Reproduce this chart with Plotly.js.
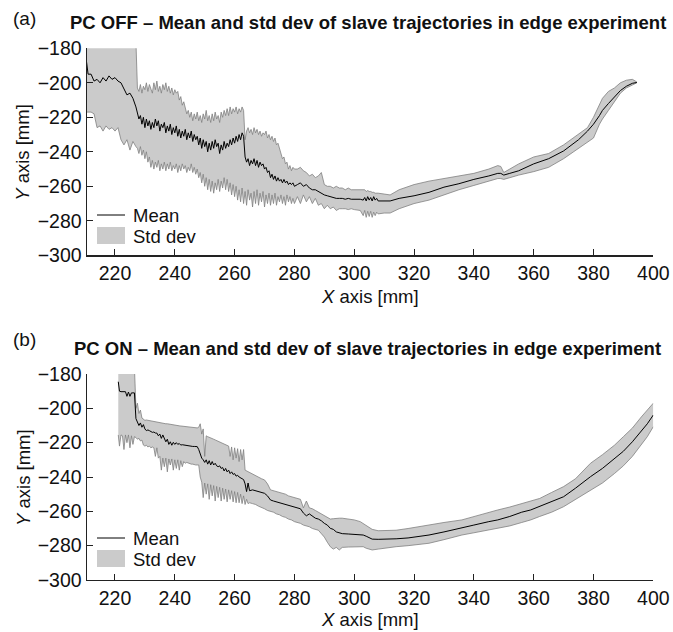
<!DOCTYPE html>
<html>
<head>
<meta charset="utf-8">
<script src="https://cdn.plot.ly/plotly-3.0.1.min.js"></script>
<style>html,body{margin:0;padding:0;background:#fff;}#chart{width:673px;height:632px;}</style>
</head>
<body>
<div id="chart"></div>
<script>
// ---------- Panel (a): PC OFF ----------
const xA = [210.5,211,212,213,214,215,216,217,218,219,220,221,222,223,224,225,226,227,
227.5,228,228.5,229,229.5,230,230.5,231,231.5,232,
232.5,233,233.5,234,234.5,235,235.5,236,236.5,237,
237.5,238,238.5,239,239.5,240,240.5,241,241.5,242,
242.5,243,243.5,244,244.5,245,245.5,246,246.5,247,
247.5,248,248.5,249,249.5,250,250.5,251,251.5,252,
252.5,253,253.5,254,254.5,255,255.5,256,256.5,257,
257.5,258,258.5,259,259.5,260,260.5,261,261.5,262,
262.5,263,263.5,264,264.5,265,265.5,266,266.5,267,
267.5,268,268.5,269,269.5,270,270.5,271,271.5,272,
272.5,273,273.5,274,274.5,275,275.5,276,276.5,277,
277.5,278,278.5,279,279.5,280,
281,282,283,284,285,286,287,288,289,290,291,292,293,294,295,296,297,298,299,300,
302,303,303.5,304,304.5,305,305.5,306,306.5,307,307.5,308,310,312,315,320,325,330,335,340,
345,348,349,350,352,355,360,365,370,375,378,380,382,383,385,387,389,391,393,394.5];

const meanA = [-188,-195,-195,-199,-198,-200,-197,-199,-196,-198,-197,-199,-200,-204,-207,-206,-209,-214,
-218,-221,-219,-224,-220,-226,-221,-225,-222,-227,
-223,-226,-221,-225,-222,-228,-224,-226,-223,-229,
-225,-228,-224,-230,-226,-229,-225,-231,-227,-232,
-228,-231,-227,-233,-229,-232,-228,-234,-230,-233,
-231,-236,-232,-238,-233,-237,-234,-240,-235,-239,
-234,-238,-233,-237,-235,-241,-236,-239,-234,-238,
-235,-237,-233,-236,-232,-235,-231,-234,-230,-233,
-229,-231,-243,-246,-244,-248,-245,-247,-244,-248,
-245,-249,-246,-248,-247,-250,-249,-252,-251,-255,
-253,-256,-254,-257,-255,-257,-256,-258,-256,-258,
-257,-259,-258,-259,-258,-260,
-259,-258,-260,-259,-261,-262,-262,-263,-264,-265,-265.5,-266,-266.5,-267,-267,-267,-267.5,-267,-267.5,-267.5,
-267.5,-268,-266.5,-268.5,-266,-268,-266.5,-268.5,-266,-268,-267,-268.5,-268.5,-268.5,-267,-265.5,-263.5,-260.5,-258.5,-256,
-254,-252.5,-252.5,-253.5,-252.5,-251,-247,-244,-239.5,-233,-228,-224,-219,-216,-212,-208,-204.5,-202,-200.3,-199.8];

const upperA = [-176,-176,-176,-176,-176,-176,-176,-176,-176,-176,-176,-176,-176,-176,-176,-176,-176,-176,
-203,-205,-201,-206,-202,-204,-200,-205,-201,-203,
-206,-200,-204,-199,-205,-202,-206,-201,-204,-200,
-205,-202,-206,-203,-207,-204,-206,-205,-210,-208,
-213,-211,-214,-218,-216,-220,-217,-222,-218,-221,
-217,-222,-219,-223,-218,-221,-216,-222,-219,-223,
-218,-222,-217,-221,-219,-223,-217,-220,-216,-219,
-215,-219,-214,-218,-215,-217,-214,-218,-215,-217,
-214,-216,-233,-228,-226,-229,-227,-230,-226,-229,
-227,-230,-228,-231,-229,-230,-228,-232,-230,-233,
-231,-234,-232,-236,-235,-238,-240,-244,-243,-247,
-246,-250,-248,-251,-249,-250,
-250,-249,-251,-252,-254,-253,-255,-254,-252,-259,-260,-260,-261,-260,-261,-261,-262,-261,-262,-262,
-262,-262,-262,-263,-262.5,-263,-263,-263.5,-263.5,-264,-264,-264,-264.5,-265,-262,-259,-257,-255.5,-254,-252.5,
-250,-248,-248.5,-252,-250,-247,-243,-241,-236,-230,-226,-220,-212,-209,-205,-203,-200,-198.5,-198,-199.5];

const lowerA = [-217,-217,-217,-218,-226,-225,-228,-225,-227,-226,-228,-226,-233,-236,-233,-239,-234,-237,
-238,-241,-237,-242,-239,-244,-240,-246,-243,-249,
-245,-250,-246,-249,-245,-251,-247,-250,-246,-251,
-247,-250,-246,-251,-248,-250,-247,-252,-248,-251,
-247,-250,-248,-252,-249,-251,-247,-252,-249,-253,
-250,-255,-252,-258,-253,-260,-255,-262,-256,-263,
-257,-264,-258,-262,-256,-263,-257,-261,-255,-262,
-256,-263,-258,-265,-259,-266,-260,-268,-262,-269,
-261,-270,-263,-271,-262,-268,-264,-272,-263,-270,
-262,-271,-264,-269,-263,-272,-265,-270,-264,-271,
-265,-270,-264,-271,-266,-269,-265,-270,-266,-271,
-265,-269,-266,-270,-267,-270,
-266,-270,-265,-269,-266,-270,-267,-271,-270,-273,-271,-273,-272,-274,-273,-273,-273,-273.5,-273,-273.5,
-274,-277,-274,-278,-274.5,-277.5,-274.5,-278,-275,-277,-275,-276,-275.5,-275.5,-273,-270,-268,-265,-262,-259.5,
-257,-255.5,-255.5,-256,-255,-253.5,-251.5,-249,-244,-238,-234.5,-232,-224,-221,-216,-211,-206,-203,-201.5,-200];

// ---------- Panel (b): PC ON ----------
const xB = [221.1,221.5,222,222.5,223,223.5,224,224.5,225,225.5,
226,226.5,227,227.5,228,228.5,229,229.5,230,230.5,
231,231.5,232,232.5,233,233.5,234,234.5,235,235.5,
236,236.5,237,237.5,238,238.5,239,239.5,240,240.5,
241,241.5,242,242.5,243,243.5,244,244.5,245,245.5,
246,246.5,247,247.5,248,248.5,249,249.5,250,250.5,
251,251.5,252,252.5,253,253.5,254,254.5,255,255.5,
256,256.5,257,257.5,258,258.5,259,259.5,260,260.5,
261,261.5,262,262.5,263,263.5,264,264.5,265,
266,267,268,269,270,271,272,273,274,275,276,277,278,279,280,281,282,283,284,285,286,287,288,289,290,291,292,293,294,295,296,
298,300,302,303,304,306,308,310,314,318,322,325,330,336,340,345,348,352,356,359,362,366,370,374,379,383,387,390,393,396,398,400];

const meanB = [-184.5,-190,-190.3,-190.3,-190.3,-190.3,-193,-190.5,-193,-191,
-191,-191,-206,-208,-210,-208.5,-211,-209.5,-212,-213,
-212.6,-213,-213.5,-214,-213.8,-214.4,-214.4,-216,-215,-217.5,
-215.5,-217.5,-219.5,-218,-221,-219.5,-221.5,-219.8,-221,-220,
-221,-220.5,-221.4,-221.2,-221.4,-221.6,-221.8,-222,-222,-222.1,
-222.2,-222.2,-222.3,-222.3,-224,-227,-229,-230,-231.5,-230,
-232.5,-230.5,-233,-231,-233,-232,-233.5,-234,-233.5,-235,
-234.5,-236.5,-235,-237,-236,-238,-237,-238.5,-238,-239.5,
-239,-240,-240.6,-241,-241.5,-244,-248.5,-243.5,-248,
-247.5,-248,-248.5,-249,-249.5,-251,-253.4,-254,-254.5,-255,-255.5,-256,-256.5,-257,-257.5,-258,-258.5,-261,-262.6,-261.5,-263,-264,-264.5,-265.5,-267,-268,-269.9,-270.5,-272,-272.6,-273,
-273.2,-273.5,-273.8,-273.8,-274.5,-276.2,-276.3,-276.3,-276,-275.5,-274.5,-273.8,-272,-269.4,-268,-266,-265,-263,-260.5,-259.2,-257,-254.5,-251.5,-246.5,-239.8,-235,-229.5,-225,-219.5,-213,-209,-203.9];

const upperB = [-176,-176,-176,-176,-176,-176,-176,-176,-176,-176,
-176,-176,-200,-197,-203,-201,-205.6,-206.5,-207,-206.8,
-207,-207.2,-207.4,-207.6,-207.8,-208,-208,-208.2,-208.4,-208.5,
-208.6,-208.8,-209,-209,-209.2,-209.4,-209.5,-209.6,-209.8,-210,
-210,-210.2,-210.3,-210.4,-210.5,-210.6,-210.7,-210.8,-211,-211,
-211,-211.2,-211.3,-211.4,-211,-209,-215,-212,-228,-216,
-216.5,-217,-217.3,-217.6,-218,-218.4,-218.8,-219.2,-219.6,-220,
-220.4,-220.8,-221.2,-221.6,-222,-228,-222.5,-230,-223,-229,
-223.5,-231,-224,-230,-224,-236,-236.5,-237,-237,
-238,-239,-240,-241,-241.7,-244,-247.5,-248,-248.5,-249,-249.5,-250,-251,-251.5,-252,-252.5,-253,-258,-254,-258,-258.5,-259.5,-260.5,-261.5,-262.5,-263.5,-264.5,-264.3,-264,-264,-264,
-264.5,-265,-266,-267,-268,-270.5,-271.3,-271.3,-271,-270,-268.7,-267.9,-266.5,-265,-263,-260.5,-259.2,-257.5,-255.5,-254.4,-252.5,-249,-245.6,-241,-232,-227,-221.5,-216.5,-211.5,-205,-201,-197];

const lowerB = [-215.5,-222,-215.5,-216,-224,-215.5,-220,-215.5,-223,-216,
-221,-216.5,-217,-218,-217.5,-219,-218.5,-221.4,-222,-221.5,
-222.5,-222,-223,-222.5,-223,-228,-223,-229,-228,-236,
-229,-234,-229,-237,-229.5,-233,-229.5,-236,-230,-235,
-230,-236,-230.5,-234,-231,-232,-231.5,-232,-232,-232.5,
-232.5,-233,-233,-233,-233,-240,-243,-252,-243.5,-250,
-244,-253,-244.5,-251,-245,-254,-245.5,-252,-246,-254,
-246.5,-253,-247,-254.5,-247.5,-253,-248,-254.5,-248.5,-255,
-249,-255,-250,-255.5,-251,-256,-253,-255.5,-255,
-255.5,-256,-257,-258,-258.5,-259.5,-260,-260.5,-261.5,-262,-263,-263.5,-264.5,-265,-266,-266.5,-267,-268,-268.5,-269,-270,-270.5,-271,-273,-275,-278,-280.6,-282,-281,-282.5,-281,
-280.8,-280.6,-280.6,-280.6,-281.5,-282.5,-282,-281.5,-280.6,-280,-279.3,-278.6,-276.5,-273.8,-272.5,-271,-270,-268.5,-266.5,-265,-263,-260.5,-257.3,-253,-248,-243.5,-238,-233.5,-228,-221,-216.5,-210.7];

// ---------- labels ----------
const panelLabels = ['(a)', '(b)'];
const panelTitles = ['PC OFF \u2013 Mean and std dev of slave trajectories in edge experiment',
                     'PC ON \u2013 Mean and std dev of slave trajectories in edge experiment'];
const xTitle = '<i>X</i> axis [mm]';
const yTitle = '<i>Y</i> axis [mm]';
const legendNames = ['Mean', 'Std dev'];
const xTicks = [220, 240, 260, 280, 300, 320, 340, 360, 380, 400];
const yTicks = [-300, -280, -260, -240, -220, -200, -180];

// ---------- style ----------
const W = 673, H = 632;
const FONT = 'Liberation Sans, Arial, Helvetica, sans-serif';
const FILL = '#cbcbcb', EDGE = '#808080';
const px = v => v / W, py = v => 1 - v / H;

function band(x, lo, up, mean, xa, ya) {
  return [
    {x: x, y: lo, xaxis: xa, yaxis: ya, type: 'scatter', mode: 'lines',
     line: {color: EDGE, width: 0.8}, showlegend: false, hoverinfo: 'skip'},
    {x: x, y: up, xaxis: xa, yaxis: ya, type: 'scatter', mode: 'lines', fill: 'tonexty',
     fillcolor: FILL, line: {color: EDGE, width: 0.8}, name: legendNames[1], showlegend: false},
    {x: x, y: mean, xaxis: xa, yaxis: ya, type: 'scatter', mode: 'lines',
     line: {color: '#000', width: 1}, name: legendNames[0], showlegend: false}
  ];
}

const data = [].concat(
  band(xA, lowerA, upperA, meanA, 'x', 'y'),
  band(xB, lowerB, upperB, meanB, 'x2', 'y2')
);

const TICKFONT = {family: FONT, size: 19.5, color: '#111'};
const xDom = [86.7 / W, 653.3 / W];
function xaxis(anchor) {
  return {domain: xDom, range: [210.54, 400], anchor: anchor, tickvals: xTicks,
    ticks: 'inside', ticklen: 6, tickwidth: 1, tickcolor: '#222',
    showline: true, linecolor: '#222', linewidth: 1.2, showgrid: false, zeroline: false,
    tickfont: TICKFONT};
}
function yaxis(anchor, top, bot) {
  return {domain: [py(bot), py(top)], range: [-300, -180], anchor: anchor, tickvals: yTicks,
    ticks: 'inside', ticklen: 6, tickwidth: 1, tickcolor: '#222',
    showline: true, linecolor: '#222', linewidth: 1.2, showgrid: false, zeroline: false,
    tickfont: TICKFONT};
}

const panels = [{top: 48.3, bot: 255.3, labY: 18, titY: 23, xtY: 296, legY: 215},
                {top: 374, bot: 580, labY: 339, titY: 348, xtY: 619, legY: 538}];

const annotations = [], shapes = [];
panels.forEach((p, i) => {
  annotations.push({xref: 'paper', yref: 'paper', x: px(11), y: py(p.labY), xanchor: 'left', yanchor: 'middle',
    text: panelLabels[i], showarrow: false, font: {family: FONT, size: 19, color: '#111'}});
  annotations.push({xref: 'paper', yref: 'paper', x: px(368), y: py(p.titY), xanchor: 'center', yanchor: 'middle',
    text: '<b>' + panelTitles[i] + '</b>', showarrow: false, font: {family: FONT, size: 18.5, color: '#111'}});
  annotations.push({xref: 'paper', yref: 'paper', x: px(370), y: py(p.xtY), xanchor: 'center', yanchor: 'middle',
    text: xTitle, showarrow: false, font: {family: FONT, size: 18.5, color: '#111'}});
  annotations.push({xref: 'paper', yref: 'paper', x: px(23), y: py((p.top + p.bot) / 2), xanchor: 'center', yanchor: 'middle',
    text: yTitle, textangle: -90, showarrow: false, font: {family: FONT, size: 18.5, color: '#111'}});
  // legend
  shapes.push({type: 'line', xref: 'paper', yref: 'paper', x0: px(97), x1: px(125), y0: py(p.legY), y1: py(p.legY),
    line: {color: '#000', width: 1}});
  shapes.push({type: 'rect', xref: 'paper', yref: 'paper', x0: px(97), x1: px(125), y0: py(p.legY + 12), y1: py(p.legY + 29),
    fillcolor: FILL, line: {width: 0}});
  annotations.push({xref: 'paper', yref: 'paper', x: px(131), y: py(p.legY), xanchor: 'left', yanchor: 'middle',
    text: legendNames[0], showarrow: false, font: {family: FONT, size: 18.5, color: '#111'}});
  annotations.push({xref: 'paper', yref: 'paper', x: px(131), y: py(p.legY + 21), xanchor: 'left', yanchor: 'middle',
    text: legendNames[1], showarrow: false, font: {family: FONT, size: 18.5, color: '#111'}});
});

const layout = {
  width: W, height: H, margin: {l: 0, r: 0, t: 0, b: 0},
  paper_bgcolor: '#fff', plot_bgcolor: '#fff', showlegend: false,
  font: {family: FONT, color: '#111'},
  xaxis: xaxis('y'), yaxis: yaxis('x', panels[0].top, panels[0].bot),
  xaxis2: xaxis('y2'), yaxis2: yaxis('x2', panels[1].top, panels[1].bot),
  annotations: annotations, shapes: shapes
};

Plotly.newPlot('chart', data, layout, {displayModeBar: false, staticPlot: true});
</script>
</body>
</html>
